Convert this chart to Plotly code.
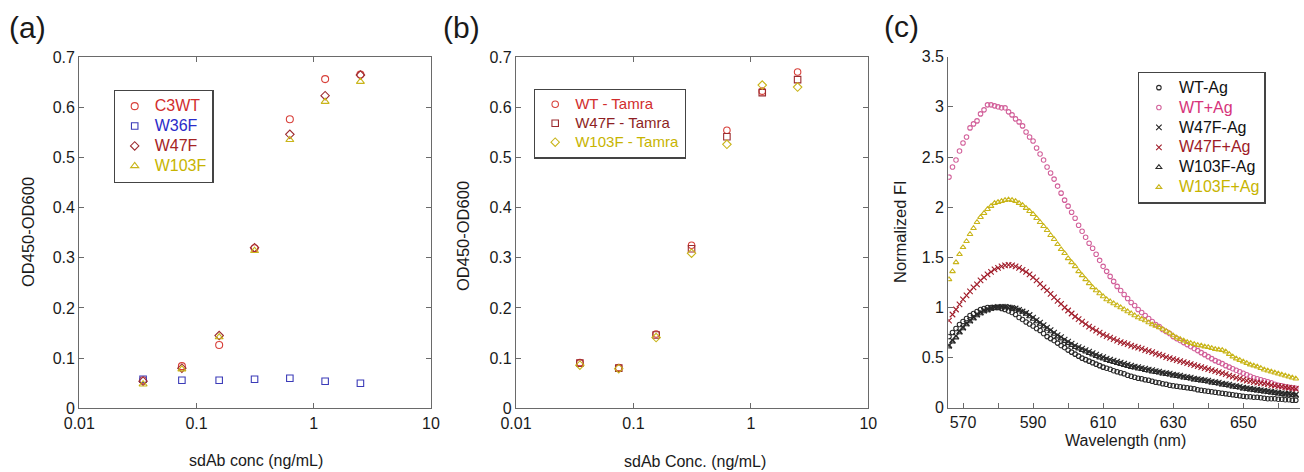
import plotly.graph_objects as go

# ---------------- data ----------------
conc = [0.035, 0.075, 0.156, 0.3125, 0.625, 1.25, 2.5]

# panel (a)
a_C3WT = [0.056, 0.084, 0.126, 0.319, 0.576, 0.656, 0.665]
a_W36F = [0.058, 0.056, 0.056, 0.058, 0.060, 0.054, 0.050]
a_W47F = [0.054, 0.080, 0.145, 0.320, 0.546, 0.623, 0.664]
a_W103F = [0.048, 0.078, 0.142, 0.314, 0.535, 0.611, 0.651]

# panel (b)
b_WT = [0.091, 0.081, 0.148, 0.325, 0.554, 0.632, 0.670]
b_W47F = [0.090, 0.080, 0.146, 0.318, 0.541, 0.629, 0.655]
b_W103F = [0.086, 0.079, 0.141, 0.309, 0.526, 0.644, 0.640]

# panel (c)
wavelength = list(range(566, 666))
WT_minus_Ag = [0.71, 0.75, 0.79, 0.83, 0.86, 0.89, 0.92, 0.94, 0.96, 0.98,
               0.99, 1.00, 1.00, 1.00, 1.00, 0.99, 0.98, 0.965, 0.95, 0.93,
               0.90, 0.88, 0.855, 0.835, 0.815, 0.79, 0.77, 0.74, 0.71, 0.69,
               0.67, 0.645, 0.62, 0.60, 0.575, 0.555, 0.535, 0.515, 0.495, 0.48,
               0.465, 0.45, 0.435, 0.42, 0.405, 0.395, 0.385, 0.37, 0.36, 0.35,
               0.34, 0.325, 0.315, 0.305, 0.295, 0.29, 0.28, 0.275, 0.265, 0.255,
               0.25, 0.24, 0.235, 0.225, 0.22, 0.215, 0.21, 0.205, 0.20, 0.195,
               0.19, 0.18, 0.175, 0.17, 0.165, 0.16, 0.155, 0.15, 0.145, 0.14,
               0.135, 0.13, 0.125, 0.12, 0.115, 0.11, 0.11, 0.105, 0.105, 0.10,
               0.095, 0.09, 0.09, 0.09, 0.085, 0.085, 0.08, 0.08, 0.075, 0.075]
WT_plus_Ag = [2.30, 2.40, 2.47, 2.56, 2.64, 2.70, 2.79, 2.83, 2.86, 2.93,
              2.97, 3.02, 3.02, 3.01, 3.00, 2.99, 2.99, 2.95, 2.92, 2.88,
              2.85, 2.81, 2.75, 2.70, 2.66, 2.59, 2.53, 2.47, 2.40, 2.34,
              2.28, 2.21, 2.14, 2.07, 2.01, 1.95, 1.89, 1.82, 1.76, 1.70,
              1.64, 1.59, 1.53, 1.47, 1.41, 1.36, 1.31, 1.26, 1.21, 1.17,
              1.13, 1.09, 1.05, 1.02, 0.98, 0.95, 0.92, 0.89, 0.86, 0.83,
              0.81, 0.78, 0.76, 0.74, 0.71, 0.69, 0.67, 0.65, 0.63, 0.61,
              0.59, 0.57, 0.55, 0.53, 0.51, 0.49, 0.47, 0.455, 0.44, 0.42,
              0.405, 0.39, 0.375, 0.36, 0.345, 0.33, 0.315, 0.30, 0.29, 0.28,
              0.27, 0.26, 0.25, 0.235, 0.225, 0.22, 0.21, 0.205, 0.20, 0.195]
W47F_minus_Ag = [0.62, 0.67, 0.715, 0.76, 0.80, 0.84, 0.87, 0.90, 0.93, 0.95,
                 0.97, 0.98, 0.995, 1.00, 1.005, 1.005, 1.005, 1.00, 0.995, 0.99,
                 0.975, 0.96, 0.945, 0.925, 0.90, 0.875, 0.85, 0.825, 0.80, 0.775,
                 0.75, 0.725, 0.705, 0.68, 0.66, 0.64, 0.62, 0.605, 0.59, 0.575,
                 0.56, 0.545, 0.53, 0.515, 0.505, 0.49, 0.48, 0.47, 0.46, 0.45,
                 0.44, 0.43, 0.42, 0.41, 0.405, 0.395, 0.39, 0.38, 0.375, 0.365,
                 0.36, 0.35, 0.345, 0.34, 0.33, 0.325, 0.32, 0.31, 0.305, 0.30,
                 0.29, 0.285, 0.28, 0.275, 0.27, 0.26, 0.255, 0.25, 0.24, 0.235,
                 0.23, 0.22, 0.215, 0.21, 0.20, 0.195, 0.19, 0.185, 0.18, 0.175,
                 0.17, 0.165, 0.16, 0.155, 0.15, 0.145, 0.14, 0.14, 0.135, 0.13]
W47F_plus_Ag = [0.87, 0.93, 0.98, 1.03, 1.08, 1.12, 1.16, 1.20, 1.23, 1.27,
                1.30, 1.33, 1.355, 1.38, 1.395, 1.41, 1.42, 1.425, 1.42, 1.41,
                1.395, 1.375, 1.355, 1.33, 1.30, 1.27, 1.235, 1.20, 1.17, 1.135,
                1.10, 1.065, 1.035, 1.00, 0.97, 0.94, 0.91, 0.885, 0.86, 0.835,
                0.81, 0.79, 0.77, 0.75, 0.73, 0.715, 0.70, 0.685, 0.67, 0.655,
                0.645, 0.635, 0.62, 0.61, 0.60, 0.59, 0.575, 0.565, 0.555, 0.54,
                0.53, 0.52, 0.505, 0.495, 0.485, 0.475, 0.465, 0.455, 0.445, 0.435,
                0.425, 0.415, 0.405, 0.395, 0.385, 0.375, 0.365, 0.355, 0.345, 0.335,
                0.32, 0.31, 0.30, 0.29, 0.28, 0.27, 0.265, 0.255, 0.25, 0.245,
                0.24, 0.235, 0.225, 0.22, 0.215, 0.21, 0.205, 0.20, 0.195, 0.19]
W103F_minus_Ag = [0.61, 0.66, 0.70, 0.75, 0.79, 0.83, 0.86, 0.89, 0.92, 0.94,
                  0.96, 0.97, 0.985, 0.995, 1.00, 1.00, 1.005, 1.00, 0.995, 0.985,
                  0.97, 0.955, 0.935, 0.91, 0.885, 0.86, 0.835, 0.81, 0.785, 0.76,
                  0.735, 0.71, 0.69, 0.665, 0.645, 0.625, 0.605, 0.59, 0.575, 0.56,
                  0.545, 0.53, 0.515, 0.50, 0.49, 0.475, 0.465, 0.455, 0.445, 0.435,
                  0.425, 0.415, 0.405, 0.40, 0.39, 0.385, 0.375, 0.37, 0.36, 0.355,
                  0.35, 0.34, 0.335, 0.33, 0.32, 0.315, 0.31, 0.30, 0.295, 0.29,
                  0.28, 0.275, 0.27, 0.265, 0.26, 0.25, 0.245, 0.24, 0.23, 0.225,
                  0.22, 0.21, 0.205, 0.20, 0.19, 0.185, 0.18, 0.175, 0.17, 0.165,
                  0.16, 0.155, 0.15, 0.145, 0.14, 0.135, 0.13, 0.13, 0.125, 0.12]
W103F_plus_Ag = [1.28, 1.36, 1.45, 1.53, 1.60, 1.66, 1.73, 1.79, 1.85, 1.90,
                 1.94, 1.98, 2.01, 2.04, 2.05, 2.06, 2.07, 2.075, 2.07, 2.06,
                 2.04, 2.02, 1.99, 1.96, 1.93, 1.89, 1.85, 1.81, 1.77, 1.72,
                 1.68, 1.63, 1.58, 1.54, 1.49, 1.45, 1.41, 1.36, 1.32, 1.28,
                 1.24, 1.20, 1.17, 1.14, 1.11, 1.08, 1.06, 1.04, 1.02, 1.00,
                 0.98, 0.96, 0.94, 0.92, 0.90, 0.885, 0.87, 0.85, 0.83, 0.815,
                 0.80, 0.785, 0.765, 0.745, 0.72, 0.70, 0.685, 0.67, 0.655, 0.645,
                 0.635, 0.625, 0.62, 0.61, 0.605, 0.595, 0.585, 0.58, 0.575, 0.56,
                 0.535, 0.51, 0.49, 0.475, 0.46, 0.445, 0.43, 0.42, 0.41, 0.395,
                 0.38, 0.37, 0.36, 0.35, 0.34, 0.33, 0.32, 0.31, 0.30, 0.29]

# tick labels
conc_tickvals = [0.01, 0.1, 1, 10]
conc_ticktext = ["0.01", "0.1", "1", "10"]
od_tickvals = [0, 0.1, 0.2, 0.3, 0.4, 0.5, 0.6, 0.7]
od_ticktext = ["0", "0.1", "0.2", "0.3", "0.4", "0.5", "0.6", "0.7"]
wl_tickvals = [570, 580, 590, 600, 610, 620, 630, 640, 650, 660]
wl_ticktext = ["570", "", "590", "", "610", "", "630", "", "650", ""]
fi_tickvals = [0, 0.5, 1, 1.5, 2, 2.5, 3, 3.5]
fi_ticktext = ["0", "0.5", "1", "1.5", "2", "2.5", "3", "3.5"]

# ---------------- styling ----------------
W, H = 1304, 472
FONT = "Arial, Liberation Sans, Helvetica, sans-serif"
AX = "#6a6a6a"
RED = "#d8413b"
BLUE = "#3b3bb8"
DKRED = "#9c2b2f"
YEL = "#c9b51a"
PINK = "#d2609a"


def px_x(p):
    return p / W


def px_y(p):
    return 1 - p / H


fig = go.Figure()


def col(name, color, fs):
    return "<span style='color:%s;font-size:%spx'>%s</span>" % (color, fs, name)


# panel (a)
for ys, name, sym, c, tc, sz in [
    (a_C3WT, "C3WT", "circle-open", RED, "#d12d2d", 7),
    (a_W36F, "W36F", "square-open", BLUE, "#2b2bc8", 6.5),
    (a_W47F, "W47F", "diamond-open", DKRED, "#a52424", 6.5),
    (a_W103F, "W103F", "triangle-up-open", YEL, "#c7b400", 7),
]:
    fig.add_trace(go.Scatter(x=conc, y=ys, mode="markers", name=col(name, tc, 16),
                             marker=dict(symbol=sym, size=sz, color=c,
                                         line=dict(width=1.1, color=c)),
                             xaxis="x", yaxis="y", legend="legend"))

# panel (b)
for ys, name, sym, c, tc in [
    (b_WT, "WT - Tamra", "circle-open", RED, "#d12d2d"),
    (b_W47F, "W47F - Tamra", "square-open", DKRED, "#8e1f24"),
    (b_W103F, "W103F - Tamra", "diamond-open", YEL, "#c7b400"),
]:
    fig.add_trace(go.Scatter(x=conc, y=ys, mode="markers", name=col(name, tc, 15),
                             marker=dict(symbol=sym, size=6.5, color=c,
                                         line=dict(width=1.1, color=c)),
                             xaxis="x2", yaxis="y2", legend="legend2"))

# panel (c)
for ys, name, sym, c, tc, sz in [
    (WT_minus_Ag, "WT-Ag", "circle-open", "#2a2a2a", "#111111", 4.5),
    (WT_plus_Ag, "WT+Ag", "circle-open", PINK, "#d6337a", 4.5),
    (W47F_minus_Ag, "W47F-Ag", "x-thin-open", "#222222", "#111111", 5.5),
    (W47F_plus_Ag, "W47F+Ag", "x-thin-open", "#a11d2a", "#9e1b27", 5.5),
    (W103F_minus_Ag, "W103F-Ag", "triangle-up-open", "#2a2a2a", "#111111", 5),
    (W103F_plus_Ag, "W103F+Ag", "triangle-up-open", YEL, "#c7b400", 5),
]:
    fig.add_trace(go.Scatter(x=wavelength, y=ys, mode="markers", name=col(name, tc, 16),
                             marker=dict(symbol=sym, size=sz, color=c,
                                         line=dict(width=1.1, color=c)),
                             xaxis="x3", yaxis="y3", legend="legend3"))

tickfont = dict(family=FONT, size=16, color="#1a1a1a")
common = dict(showline=True, linecolor=AX, linewidth=1.3, ticks="inside",
              ticklen=5, tickwidth=1.2, tickcolor=AX, showgrid=False,
              zeroline=False, tickfont=tickfont)

dom_a = [px_x(79.3), px_x(431)]
dom_b = [px_x(516), px_x(868.3)]
dom_c = [px_x(948.3), px_x(1300)]
ydom_ab = [px_y(408.3), px_y(57)]
ydom_c = [px_y(407.8), px_y(56.7)]

legstyle = dict(xanchor="left", yanchor="top", bordercolor="#444444",
                borderwidth=1.2, bgcolor="white")

fig.update_layout(
    width=W, height=H, margin=dict(l=0, r=0, t=0, b=0, autoexpand=False),
    paper_bgcolor="white", plot_bgcolor="white",
    font=dict(family=FONT, size=16, color="#1a1a1a"),
    xaxis=dict(domain=dom_a, type="log", range=[-2, 1], tickvals=conc_tickvals,
               ticktext=conc_ticktext, mirror="ticks", anchor="y", **common),
    yaxis=dict(domain=ydom_ab, range=[0, 0.7], tickvals=od_tickvals,
               ticktext=od_ticktext, mirror="ticks", anchor="x", **common),
    xaxis2=dict(domain=dom_b, type="log", range=[-2, 1], tickvals=conc_tickvals,
                ticktext=conc_ticktext, mirror="ticks", anchor="y2", **common),
    yaxis2=dict(domain=ydom_ab, range=[0, 0.7], tickvals=od_tickvals,
                ticktext=od_ticktext, mirror="ticks", anchor="x2", **common),
    xaxis3=dict(domain=dom_c, range=[565.8, 666.2], tickvals=wl_tickvals,
                ticktext=wl_ticktext, anchor="y3", **common),
    yaxis3=dict(domain=ydom_c, range=[0, 3.5], tickvals=fi_tickvals,
                ticktext=fi_ticktext, anchor="x3", **common),
    legend=dict(x=px_x(113.5), y=px_y(90), font=dict(family=FONT, size=13), **legstyle),
    legend2=dict(x=px_x(534), y=px_y(88.5), font=dict(family=FONT, size=11.5), **legstyle),
    legend3=dict(x=px_x(1137.7), y=px_y(71.5), font=dict(family=FONT, size=13), **legstyle),
    showlegend=True,
)

annots = [
    dict(text="(a)", x=px_x(7), y=px_y(28), xanchor="left", yanchor="middle", size=30),
    dict(text="(b)", x=px_x(441), y=px_y(28), xanchor="left", yanchor="middle", size=30),
    dict(text="(c)", x=px_x(882), y=px_y(27), xanchor="left", yanchor="middle", size=30),
    dict(text="sdAb conc (ng/mL)", x=px_x(256), y=px_y(460), xanchor="center", yanchor="middle", size=16),
    dict(text="sdAb Conc. (ng/mL)", x=px_x(695), y=px_y(461), xanchor="center", yanchor="middle", size=16),
    dict(text="Wavelength (nm)", x=px_x(1125), y=px_y(440), xanchor="center", yanchor="middle", size=16),
]
for a in annots:
    fig.add_annotation(text=a["text"], x=a["x"], y=a["y"], xref="paper", yref="paper",
                       xanchor=a["xanchor"], yanchor=a["yanchor"], showarrow=False,
                       font=dict(family=FONT, size=a["size"], color="#1a1a1a"))
for txt, xp, yp in [("OD450-OD600", 28, 232), ("OD450-OD600", 463, 236),
                    ("Normalized FI", 900, 232)]:
    fig.add_annotation(text=txt, x=px_x(xp), y=px_y(yp), xref="paper", yref="paper",
                       xanchor="center", yanchor="middle", textangle=-90, showarrow=False,
                       font=dict(family=FONT, size=16.5, color="#1a1a1a"))

fig.write_html(
    "out.html",
    config={"displayModeBar": False, "responsive": False},
    post_script=("document.documentElement.style.margin='0';"
                 "document.documentElement.style.overflow='hidden';"
                 "document.body.style.margin='0';"
                 "document.body.style.padding='0';"
                 "document.body.style.overflow='hidden';"),
)
